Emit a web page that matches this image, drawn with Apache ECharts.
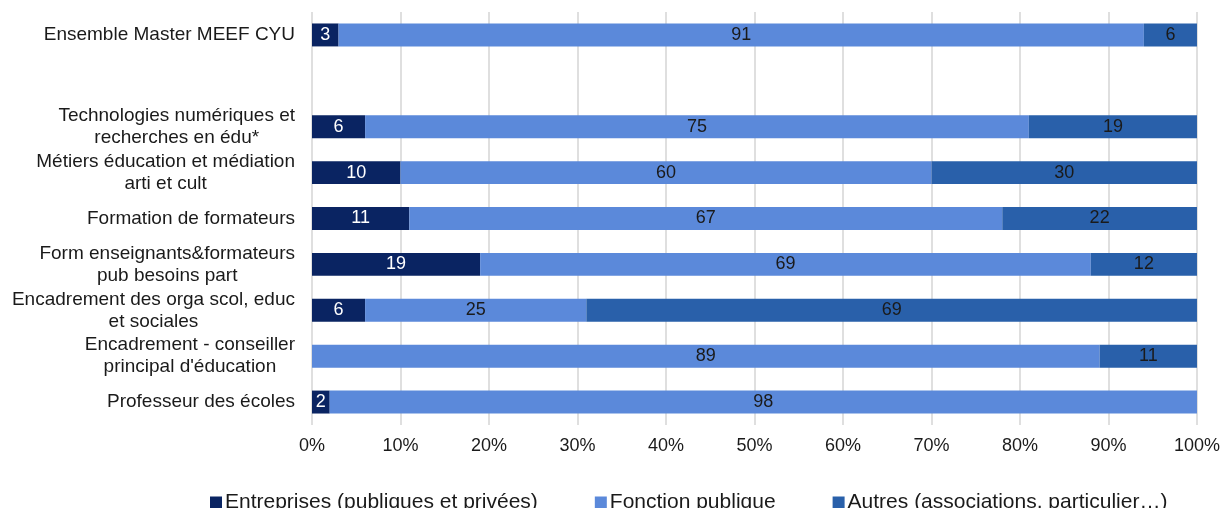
<!DOCTYPE html>
<html><head><meta charset="utf-8">
<script src="https://cdn.jsdelivr.net/npm/echarts@6/dist/echarts.min.js"></script>
<style>html,body{margin:0;padding:0;background:#fff}#c{width:1223px;height:508px}</style>
</head><body><div id="c"></div>
<script>
// bottom to top
const categories = [
  "Professeur des écoles",
  "Encadrement - conseiller\nprincipal d'éducation",
  "Encadrement des orga scol, educ\net sociales",
  "Form enseignants&formateurs\npub besoins part",
  "Formation de formateurs",
  "Métiers éducation et médiation\narti et cult",
  "Technologies numériques et\nrecherches en édu*",
  "",
  "Ensemble Master MEEF CYU"
];
const entreprises = [2, null, 6, 19, 11, 10, 6, null, 3];
const fonctionPublique = [98, 89, 25, 69, 67, 60, 75, null, 91];
const autres = [null, 11, 69, 12, 22, 30, 19, null, 6];
const seriesNames = ["Entreprises (publiques et privées)", "Fonction publique", "Autres (associations, particulier…)"];
const xTicks = [0, 10, 20, 30, 40, 50, 60, 70, 80, 90, 100];

const colors = ["#0a2462", "#5b89da", "#2960aa"];
const labelColors = ["#ffffff", "#1a1a1a", "#1a1a1a"];
const font = "'Liberation Sans', Arial, sans-serif";

const chart = echarts.init(document.getElementById('c'), null, {renderer: 'canvas'});
const mk = (name, data, i) => ({
  name, type: 'bar', stack: 'total', data,
  barWidth: '50%',
  itemStyle: {color: colors[i]},
  label: {show: true, position: 'inside', color: labelColors[i], fontSize: 18, fontFamily: font,
    formatter: p => (p.value == null ? '' : String(p.value))},
  emphasis: {disabled: true}
});
chart.setOption({
  animation: false,
  textStyle: {fontFamily: font},
  color: colors,
  grid: {left: 312, right: 26, top: 12, bottom: 83, containLabel: false},
  xAxis: {
    type: 'value', min: xTicks[0], max: xTicks[xTicks.length - 1], interval: 10,
    axisLine: {show: false}, axisTick: {show: false},
    splitLine: {show: true, lineStyle: {color: '#d4d4d4', width: 1.5}},
    axisLabel: {formatter: v => v + '%', fontSize: 18, color: '#1a1a1a', margin: 12, fontFamily: font}
  },
  yAxis: {
    type: 'category', data: categories,
    axisLine: {show: false}, axisTick: {show: false},
    axisLabel: {
      fontSize: 19, color: '#1a1a1a', margin: 17, fontFamily: font, lineHeight: 22,
      formatter: v => v.split('\n').map(s => '{c|' + s + '}').join('\n'),
      rich: {c: {align: 'center', fontSize: 19, color: '#1a1a1a', fontFamily: font, lineHeight: 22}}
    }
  },
  legend: {
    top: 492, left: 210, itemWidth: 12, itemHeight: 12, itemGap: 57, icon: 'rect', padding: 0,
    textStyle: {fontSize: 21, color: '#1a1a1a', fontFamily: font, padding: [0, 0, 0, -2]},
    data: seriesNames
  },
  series: [mk(seriesNames[0], entreprises, 0), mk(seriesNames[1], fonctionPublique, 1), mk(seriesNames[2], autres, 2)]
});
</script></body></html>
